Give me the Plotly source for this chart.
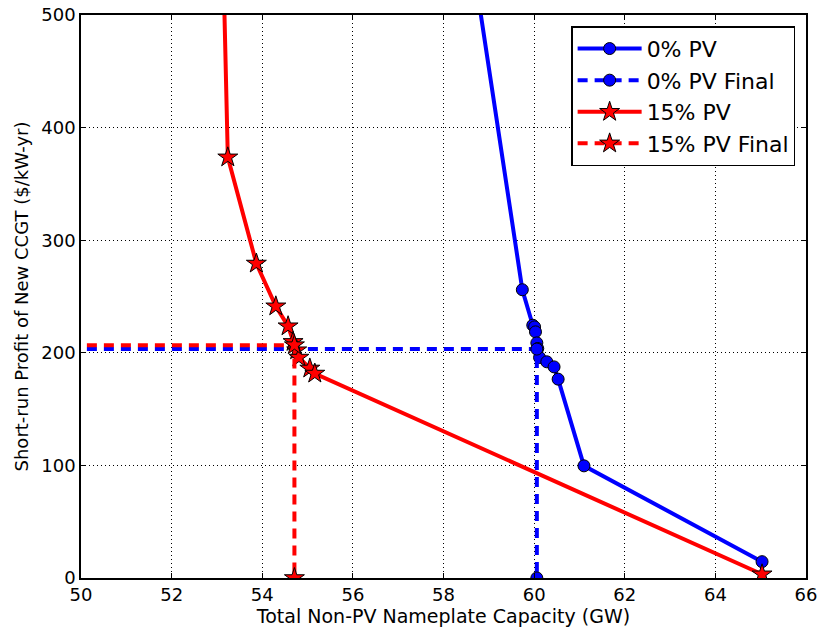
import plotly.graph_objects as go

# 0% PV: capacity (GW) vs. short-run profit of a new CCGT ($/kW-yr)
pv0_cap = [58.45, 59.74, 59.97, 60.01, 60.03, 60.06, 60.08, 60.12, 60.28, 60.44, 60.53, 61.10, 65.03]
pv0_profit = [600, 256, 224.5, 223, 218.6, 208.8, 203.8, 195.8, 192, 187.5, 176.6, 99.6, 14.5]

# 15% PV
pv15_cap = [53.12, 53.24, 53.87, 54.30, 54.57, 54.68, 54.76, 54.81, 55.05, 55.16, 65.03]
pv15_profit = [580, 373.6, 279.3, 241.3, 223.6, 209.7, 202.3, 195.8, 186.1, 181.6, 3.3]

# Final equilibria (profit level, capacity)
pv0_final_profit = 203.3
pv0_final_cap = 60.06
pv15_final_profit = 206.8
pv15_final_cap = 54.71
axis_left = 40  # left end of the horizontal guide, outside the visible range

BLUE = "#0000ff"
RED = "#ff0000"
FONT = "DejaVu Sans"

fig = go.Figure()

fig.add_trace(go.Scatter(
    x=pv0_cap, y=pv0_profit, mode="lines+markers", name="0% PV",
    line=dict(color=BLUE, width=4),
    marker=dict(symbol="circle", size=12, color=BLUE, line=dict(color="black", width=1)),
))
fig.add_trace(go.Scatter(
    x=[axis_left, pv0_final_cap, pv0_final_cap],
    y=[pv0_final_profit, pv0_final_profit, 0],
    mode="lines+markers", name="0% PV Final",
    line=dict(color=BLUE, width=4, dash="10px,7px"),
    marker=dict(symbol="circle", size=12, color=BLUE, line=dict(color="black", width=1)),
))
fig.add_trace(go.Scatter(
    x=pv15_cap, y=pv15_profit, mode="lines+markers", name="15% PV",
    line=dict(color=RED, width=4),
    marker=dict(symbol="star", size=15, color=RED, line=dict(color="black", width=1)),
))
fig.add_trace(go.Scatter(
    x=[axis_left, pv15_final_cap, pv15_final_cap],
    y=[pv15_final_profit, pv15_final_profit, 0],
    mode="lines+markers", name="15% PV Final",
    line=dict(color=RED, width=4, dash="10px,7px"),
    marker=dict(symbol="star", size=15, color=RED, line=dict(color="black", width=1)),
))

axis_common = dict(
    showline=True, linecolor="black", linewidth=1.5, mirror="allticks",
    ticks="inside", ticklen=5, tickcolor="black",
    showgrid=True, gridcolor="black", gridwidth=1, griddash="1px,3px",
    zeroline=False, automargin=False, ticklabeloverflow="allow",
    tickfont=dict(family=FONT, size=18, color="black"),
)

fig.update_layout(
    width=817, height=628,
    margin=dict(l=81, r=11, t=15, b=50),
    paper_bgcolor="white", plot_bgcolor="white",
    font=dict(family=FONT, color="black"),
    xaxis=dict(
        range=[50, 66], tickmode="array", tickvals=list(range(50, 67, 2)),
        title=dict(text="Total Non-PV Nameplate Capacity (GW)", font=dict(size=19), standoff=2),
        **axis_common,
    ),
    yaxis=dict(
        range=[0, 500], tickmode="array", tickvals=list(range(0, 501, 100)),
        title=dict(text="Short-run Profit of New CCGT ($/kW-yr)", font=dict(size=18), standoff=8),
        **axis_common,
    ),
    legend=dict(
        x=0.985, y=0.98, xanchor="right", yanchor="top",
        bgcolor="white", bordercolor="black", borderwidth=1.5,
        font=dict(family=FONT, size=22, color="black"),
        itemwidth=64, tracegroupgap=0,
    ),
    showlegend=True,
)

fig.write_html("out.html")
